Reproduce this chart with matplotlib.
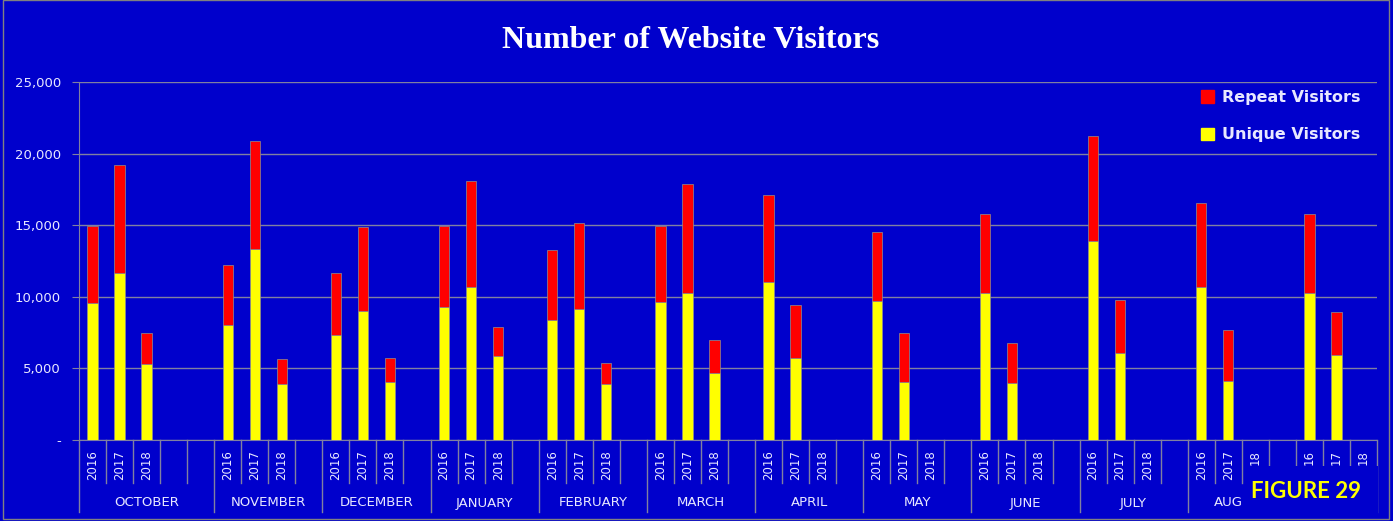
import matplotlib
matplotlib.use('Agg')
from matplotlib import pyplot as plt
from matplotlib.patches import Rectangle, Patch
import numpy as np

# months on the axis (last group has no visible label in the reference)
months = ['OCTOBER', 'NOVEMBER', 'DECEMBER', 'JANUARY', 'FEBRUARY', 'MARCH',
          'APRIL', 'MAY', 'JUNE', 'JULY', 'AUG', '']
# year labels under every slot of each month group
year_labels = [
    ['2016', '2017', '2018', '', ''],
    ['2016', '2017', '2018', ''],
    ['2016', '2017', '2018', ''],
    ['2016', '2017', '2018', ''],
    ['2016', '2017', '2018', ''],
    ['2016', '2017', '2018', ''],
    ['2016', '2017', '2018', ''],
    ['2016', '2017', '2018', ''],
    ['2016', '2017', '2018', ''],
    ['2016', '2017', '2018', ''],
    ['2016', '2017', '18', ''],
    ['16', '17', '18'],
]

# unique visitors per month, by year
unique_2016 = [9600, 8000, 7300, 9300, 8350, 9650, 11000, 9700, 10250, 13900, 10650, 10250]
unique_2017 = [11650, 13350, 9000, 10700, 9150, 10250, 5750, 4050, 4000, 6100, 4100, 5950]
unique_2018 = [5300, 3900, 4050, 5900, 3900, 4700, 0, 0, 0, 0, 0, 0]
# total visitors (unique + repeat) per month, by year
total_2016 = [14950, 12200, 11650, 14950, 13250, 14950, 17100, 14550, 15800, 21250, 16550, 15750]
total_2017 = [19200, 20850, 14850, 18100, 15150, 17850, 9400, 7450, 6800, 9750, 7650, 8950]
total_2018 = [7450, 5650, 5750, 7900, 5400, 6950, 0, 0, 0, 0, 0, 0]

BG = '#0000CC'
GRID = '#8080A0'
TXT = '#E8E8FF'
W, H = 1393, 521

fig = plt.figure(figsize=(W / 100, H / 100), dpi=100, facecolor=BG)
ax = fig.add_axes([79 / W, 81 / H, (1377 - 79) / W, 358 / H], facecolor=BG)

# slot layout
starts = np.cumsum([0] + [len(y) for y in year_labels])
n_slots = starts[-1]

xs, uniq, rep = [], [], []
for i in range(len(months)):
    for k, (u_arr, t_arr) in enumerate([(unique_2016, total_2016),
                                        (unique_2017, total_2017),
                                        (unique_2018, total_2018)]):
        if t_arr[i] > 0:
            xs.append(starts[i] + k)
            uniq.append(u_arr[i])
            rep.append(t_arr[i] - u_arr[i])

ax.bar(xs, uniq, width=0.38, color='#FFFF00', edgecolor='#909090', linewidth=0.5,
       label='Unique Visitors', zorder=3)
ax.bar(xs, rep, width=0.38, bottom=uniq, color='#FF0000', edgecolor='#909090',
       linewidth=0.5, label='Repeat Visitors', zorder=3)

ax.set_xlim(-0.5, n_slots - 0.5)
ax.set_ylim(0, 25000)
ax.set_yticks(range(0, 25001, 5000))
ax.set_yticklabels(['-'] + ['{:,}'.format(v) for v in range(5000, 25001, 5000)])
ax.yaxis.grid(True, color=GRID, linewidth=1)
ax.set_axisbelow(True)
ax.tick_params(axis='y', colors=GRID, labelcolor=TXT, labelsize=9.5, length=5, pad=8)
ax.set_xticks([])
for s in ['top', 'right']:
    ax.spines[s].set_visible(False)
for s in ['left', 'bottom']:
    ax.spines[s].set_color(GRID)

# category axis: slot ticks, year labels, month labels
tr = ax.get_xaxis_transform()
short, long_ = -43 / 358, -72 / 358
for i, m in enumerate(months):
    a, b = starts[i], starts[i + 1]
    ax.plot([a - 0.5, a - 0.5], [0, long_], color=GRID, lw=1, transform=tr, clip_on=False)
    for j in range(a + 1, b):
        ax.plot([j - 0.5, j - 0.5], [0, short], color=GRID, lw=1, transform=tr, clip_on=False)
    for j, lab in enumerate(year_labels[i]):
        ax.text(a + j, -10 / 358, lab, rotation=90, ha='center', va='top',
                color=TXT, fontsize=8.5, transform=tr)
    cx = (a + b - 1) / 2
    if m == 'AUG':
        cx -= 0.5
    if m:
        ax.text(cx, -63 / 358, m, ha='center', va='center', color=TXT, fontsize=9.5,
                transform=tr)
ax.plot([n_slots - 0.5] * 2, [0, long_], color=GRID, lw=1, transform=tr, clip_on=False)

fig.text(691 / W, 1 - 40 / H, 'Number of Website Visitors', ha='center', va='center',
         color='white', fontsize=23, fontweight='bold', family='Liberation Serif')

ax.legend(handles=[Patch(color='#FF0000', label='Repeat Visitors'),
                   Patch(color='#FFFF00', label='Unique Visitors')],
          loc='upper right', bbox_to_anchor=(1368 / W, 1 - 82 / H),
          bbox_transform=fig.transFigure, frameon=False, labelcolor=TXT,
          prop={'weight': 'bold', 'size': 11.5}, handlelength=0.8, handleheight=0.8,
          handletextpad=0.5, labelspacing=1.4, borderpad=0)

# blue panel behind the figure tag, covering the end of the category axis
fig.patches.append(Rectangle((1245 / W, 2 / H), (1378 - 1245) / W, (519 - 466) / H,
                             transform=fig.transFigure, facecolor=BG, edgecolor='none',
                             zorder=5))
fig.text(1306 / W, 1 - 492 / H, 'FIGURE 29', ha='center', va='center', color='#FFFF00',
         fontsize=16, fontweight='bold', family='Lato', zorder=10)

fig.patches.append(Rectangle((3 / W, 2 / H), (1389 - 3) / W, 1 - 2 / H, transform=fig.transFigure,
                             fill=False, edgecolor='#808080', linewidth=1, zorder=6))

fig.savefig('out.png', dpi=100, facecolor=BG)
